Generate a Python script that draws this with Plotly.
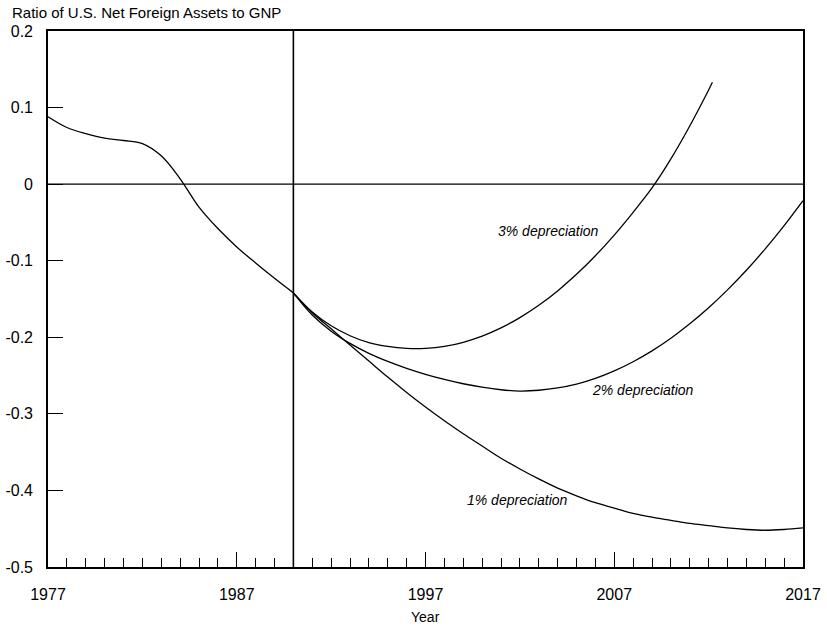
import plotly.graph_objects as go

# ---- data ----
hist_years = list(range(1977, 1991))
hist_values = [0.088, 0.074, 0.066, 0.060, 0.057, 0.053, 0.037, 0.007,
               -0.030, -0.058, -0.082, -0.103, -0.123, -0.142]

proj_years = list(range(1990, 2018))
dep_1pct = [-0.142, -0.168, -0.189, -0.210, -0.231, -0.252, -0.272, -0.291,
            -0.309, -0.326, -0.342, -0.358, -0.372, -0.385, -0.397, -0.407,
            -0.416, -0.423, -0.430, -0.435, -0.439, -0.443, -0.446, -0.449,
            -0.451, -0.452, -0.451, -0.449]
dep_2pct = [-0.142, -0.171, -0.192, -0.208, -0.221, -0.2315, -0.2405, -0.2483,
            -0.2550, -0.2607, -0.2652, -0.2685, -0.2702, -0.2692, -0.2662, -0.2612,
            -0.2537, -0.2439, -0.2319, -0.2177, -0.2012, -0.1824, -0.1614, -0.1381,
            -0.1125, -0.0845, -0.0542, -0.0216]
dep_3pct_years = list(range(1990, 2013)) + [2012.2]
dep_3pct = [-0.142, -0.167, -0.185, -0.198, -0.207, -0.212, -0.2145, -0.2145,
            -0.212, -0.2065, -0.1985, -0.1878, -0.1743, -0.1582, -0.1394, -0.1178,
            -0.0935, -0.0665, -0.0368, -0.005, 0.033, 0.076, 0.123, 0.133]

x_tick_vals = [1977, 1987, 1997, 2007, 2017]
y_tick_vals = [0.2, 0.1, 0, -0.1, -0.2, -0.3, -0.4, -0.5]
y_tick_text = ["0.2", "0.1", "0", "-0.1", "-0.2", "-0.3", "-0.4", "-0.5"]

policy_year = 1990
zero_level = 0

labels = [
    ("3% depreciation", 2003.5, -0.061),
    ("2% depreciation", 2008.5, -0.269),
    ("1% depreciation", 2001.9, -0.412),
]

# ---- figure ----
FONT = "Liberation Sans, Arial, Helvetica, sans-serif"
line_style = dict(color="black", width=1.3, shape="spline", smoothing=1.0)

fig = go.Figure()
fig.add_trace(go.Scatter(x=hist_years, y=hist_values, mode="lines", line=line_style, showlegend=False))
fig.add_trace(go.Scatter(x=proj_years, y=dep_1pct, mode="lines", line=line_style, showlegend=False))
fig.add_trace(go.Scatter(x=proj_years, y=dep_2pct, mode="lines", line=line_style, showlegend=False))
fig.add_trace(go.Scatter(x=dep_3pct_years, y=dep_3pct, mode="lines", line=line_style, showlegend=False))

fig.add_shape(type="line", xref="x", yref="paper", x0=policy_year, x1=policy_year, y0=0, y1=1,
              line=dict(color="black", width=1.6))
fig.add_shape(type="line", xref="paper", yref="y", x0=0, x1=1, y0=zero_level, y1=zero_level,
              line=dict(color="black", width=1.4))

for text, lx, ly in labels:
    fig.add_annotation(x=lx, y=ly, text=f"<i>{text}</i>", showarrow=False,
                       font=dict(family=FONT, size=14, color="black"),
                       xanchor="center", yanchor="middle")

fig.add_annotation(xref="paper", yref="paper", x=0.5, y=0, yshift=-50, text="Year",
                   showarrow=False, font=dict(family=FONT, size=14, color="black"),
                   xanchor="center", yanchor="middle")

fig.update_layout(
    width=827, height=627,
    margin=dict(l=48, r=24, t=31, b=60, autoexpand=False),
    paper_bgcolor="white", plot_bgcolor="white",
    font=dict(family=FONT, color="black"),
    title=dict(text="Ratio of U.S. Net Foreign Assets to GNP", xref="container", yref="container",
               x=12 / 827, xanchor="left", y=1 - 13 / 627, yanchor="middle", automargin=False,
               font=dict(family=FONT, size=15, color="black")),
)
fig.update_xaxes(
    range=[1977, 2017], tickvals=x_tick_vals, ticks="inside", ticklen=15, tickwidth=1.3,
    tickcolor="black", showgrid=False, zeroline=False, showline=True, mirror=True,
    linecolor="black", linewidth=1.6, tickfont=dict(family=FONT, size=16, color="black"),
    ticklabelstandoff=12, automargin=False,
    minor=dict(dtick=1, tick0=1977, ticks="inside", ticklen=9, tickwidth=1.3, tickcolor="black",
               showgrid=False),
)
fig.update_yaxes(
    range=[-0.5, 0.2], tickvals=y_tick_vals, ticktext=y_tick_text, ticks="inside", ticklen=15,
    tickwidth=1.3, tickcolor="black", showgrid=False, zeroline=False, showline=True, mirror=True,
    linecolor="black", linewidth=1.6, tickfont=dict(family=FONT, size=16, color="black"),
    ticklabelstandoff=10, automargin=False,
)

fig.write_html("out.html", config={"displayModeBar": False},
               post_script="document.body.style.margin='0px';document.body.style.overflow='hidden';")
